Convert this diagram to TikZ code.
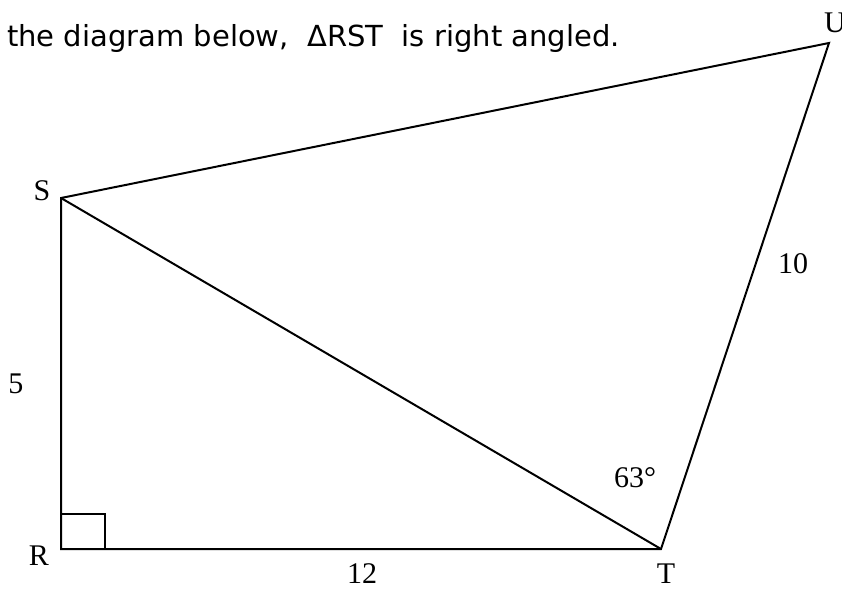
\documentclass[tikz,border=0pt]{standalone}
\usepackage{fontspec}
\setmainfont{Liberation Serif}
\newfontfamily\testofont{DejaVu Sans}
\begin{document}
\begin{tikzpicture}[x=1pt,y=-1pt,
        lato/.style={line width=2pt},
        etichetta/.style={font=\fontsize{30}{36}\selectfont, anchor=base, inner sep=0pt}]
        \useasboundingbox (0,0) rectangle (842,592);
        %testo
        \node[anchor=base west, inner sep=0pt, font=\testofont\fontsize{29}{34}\selectfont] (testo) at (7,46) {the diagram below,\ \ ΔRST\ \ is right angled.};
        %vertici
        \coordinate (R) at (61,549);
        \coordinate (S) at (61,198);
        \coordinate (T) at (661,549);
        \coordinate (U) at (829,43);
        %disegno lati
        \draw[lato] (S)--(U)--(T)--(R)--cycle;
        \draw[lato] (S)--(T);
        %angolo retto
        \draw[lato] (R) rectangle ++(44,-35);
        %etichette
        \node[etichetta] (lR) at (39,565) {R};
        \node[etichetta] (lS) at (42,200) {S};
        \node[etichetta] (lT) at (666,583) {T};
        \node[etichetta] (lU) at (835,32) {U};
        \node[etichetta] (l5) at (16,393) {5};
        \node[etichetta] (l12) at (362,583) {12};
        \node[etichetta] (l10) at (793,273) {10};
        \node[etichetta] (l63) at (635,487) {63\textdegree};
\end{tikzpicture}
\end{document}
